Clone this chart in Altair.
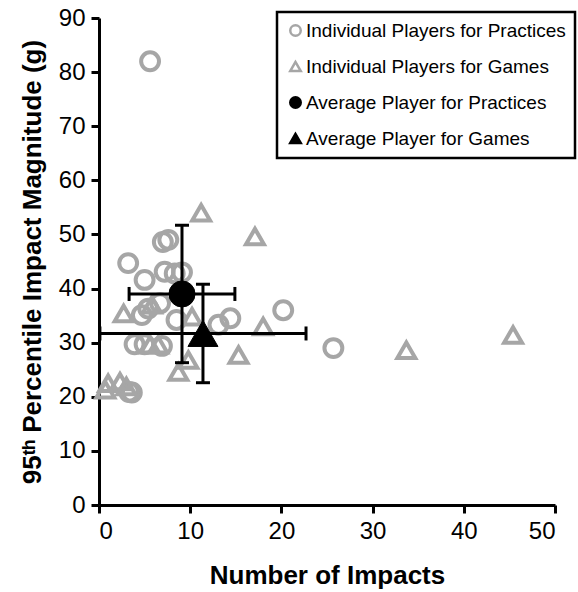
import altair as alt
import pandas as pd

# Individual players, practices (number of impacts, 95th pct magnitude g)
prac_x = [5.6, 3.2, 7.0, 7.6, 5.0, 7.2, 8.3, 9.1, 6.7, 5.4, 4.7, 8.5, 14.4, 13.1, 20.2, 3.9, 5.0, 6.9, 3.6, 3.3, 25.7]
prac_y = [82.0, 44.7, 48.6, 49.0, 41.6, 43.1, 42.8, 43.0, 37.3, 36.3, 35.1, 34.2, 34.5, 33.3, 36.0, 29.7, 29.7, 29.4, 20.8, 20.9, 29.0]

# Individual players, games
game_x = [11.2, 17.1, 2.7, 10.2, 18.0, 15.3, 9.8, 8.7, 5.6, 6.5, 1.0, 2.3, 3.0, 0.7, 33.7, 45.4, 5.8]
game_y = [54.0, 49.6, 35.4, 34.8, 33.0, 27.7, 26.8, 24.6, 29.6, 29.6, 22.5, 22.8, 21.9, 21.3, 28.6, 31.4, 37.0]

# Average players (mean with +/- error)
avg_series = ["Average Player for Practices", "Average Player for Games"]
avg_x = [9.1, 11.4]
avg_y = [39.0, 31.7]
avg_xerr = [5.8, 11.3]
avg_yerr = [12.7, 9.1]

series = ["Individual Players for Practices", "Individual Players for Games",
          "Average Player for Practices", "Average Player for Games"]

ind = pd.DataFrame({
    "x": prac_x + game_x,
    "y": prac_y + game_y,
    "series": [series[0]] * len(prac_x) + [series[1]] * len(game_x),
})
avg = pd.DataFrame({
    "x": avg_x, "y": avg_y, "series": avg_series,
    "xlo": [a - b for a, b in zip(avg_x, avg_xerr)],
    "xhi": [a + b for a, b in zip(avg_x, avg_xerr)],
    "ylo": [a - b for a, b in zip(avg_y, avg_yerr)],
    "yhi": [a + b for a, b in zip(avg_y, avg_yerr)],
})

GRAY = "#a6a6a6"
FONT = "Liberation Sans"

xscale = alt.Scale(domain=[0, 50], nice=False)
yscale = alt.Scale(domain=[0, 90], nice=False)
xaxis = alt.Axis(values=[0, 10, 20, 30, 40, 50], title="Number of Impacts", titlePadding=19)
yaxis = alt.Axis(values=list(range(0, 91, 10)), title="95ᵗʰ Percentile Impact Magnitude (g)", titlePadding=13)

leg = alt.Legend(title=None, orient="none", legendX=178, legendY=-6,
                 strokeColor="black", padding=9, labelFontSize=19,
                 labelFont=FONT, labelColor="black", symbolSize=110,
                 symbolStrokeWidth=2.5, rowPadding=15, labelLimit=400,
                 symbolOffset=0, labelOffset=1)

shape_enc = alt.Shape("series:N", scale=alt.Scale(domain=series,
                      range=["circle", "triangle-up", "circle", "triangle-up"]), legend=leg)
stroke_enc = alt.Stroke("series:N", scale=alt.Scale(domain=series, range=[GRAY, GRAY, "black", "black"]), legend=leg)
fill_enc = alt.Fill("series:N", scale=alt.Scale(domain=series, range=["transparent", "transparent", "black", "black"]), legend=leg)

enc = dict(x=alt.X("x:Q", scale=xscale, axis=xaxis), y=alt.Y("y:Q", scale=yscale, axis=yaxis),
           shape=shape_enc, stroke=stroke_enc, fill=fill_enc)

pts = alt.Chart(ind).mark_point(strokeWidth=4, opacity=1, size=320).encode(**enc)

hbar = alt.Chart(avg).mark_rule(color="black", strokeWidth=3).encode(
    x=alt.X("xlo:Q", scale=xscale), x2="xhi:Q", y=alt.Y("y:Q", scale=yscale))
vbar = alt.Chart(avg).mark_rule(color="black", strokeWidth=3).encode(
    x=alt.X("x:Q", scale=xscale), y=alt.Y("ylo:Q", scale=yscale), y2="yhi:Q")
cap_l = alt.Chart(avg).mark_tick(orient="vertical", size=14, thickness=3, color="black", opacity=1).encode(
    x=alt.X("xlo:Q", scale=xscale), y=alt.Y("y:Q", scale=yscale))
cap_r = alt.Chart(avg).mark_tick(orient="vertical", size=14, thickness=3, color="black", opacity=1).encode(
    x=alt.X("xhi:Q", scale=xscale), y=alt.Y("y:Q", scale=yscale))
cap_b = alt.Chart(avg).mark_tick(orient="horizontal", size=14, thickness=3, color="black", opacity=1).encode(
    x=alt.X("x:Q", scale=xscale), y=alt.Y("ylo:Q", scale=yscale))
cap_t = alt.Chart(avg).mark_tick(orient="horizontal", size=14, thickness=3, color="black", opacity=1).encode(
    x=alt.X("x:Q", scale=xscale), y=alt.Y("yhi:Q", scale=yscale))

avg_c = alt.Chart(avg).transform_filter(alt.datum.series == avg_series[0]).mark_point(
    strokeWidth=1, opacity=1, size=680).encode(**enc)
avg_t = alt.Chart(avg).transform_filter(alt.datum.series == avg_series[1]).mark_point(
    strokeWidth=1, opacity=1, size=900).encode(**enc)

chart = alt.layer(pts, hbar, vbar, cap_l, cap_r, cap_b, cap_t, avg_c, avg_t).properties(
    width=456, height=487,
    autosize=alt.AutoSizeParams(type="none"),
    padding={"left": 99, "top": 18, "right": 23, "bottom": 87},
).configure_view(stroke=None).configure_axis(
    grid=False, domainColor="black", domainWidth=3, tickColor="black", tickWidth=3, tickSize=8,
    labelFont=FONT, labelFontSize=24, labelColor="black", labelPadding=6,
    titleFont=FONT, titleFontSize=26, titleFontWeight="bold", titleColor="black",
).configure_legend(strokeWidth=2.5)

chart.save("out.html", embed_options={"renderer": "svg", "actions": False})
